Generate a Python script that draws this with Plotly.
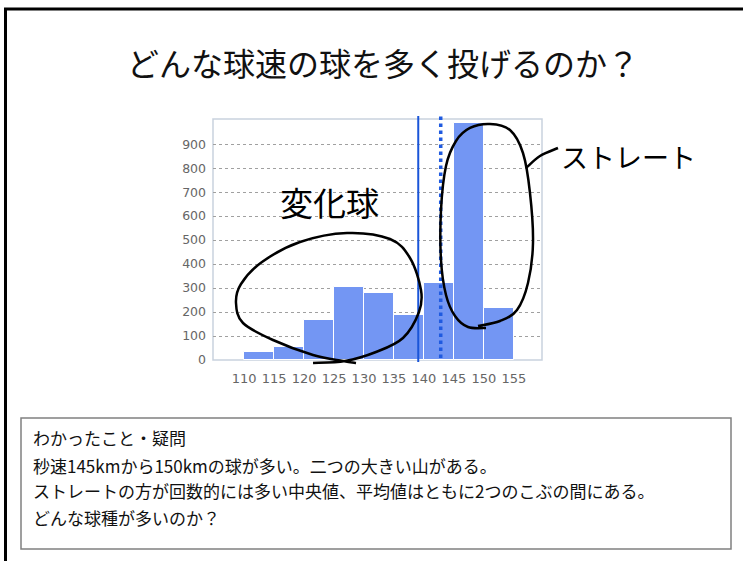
import plotly.graph_objects as go

# ---- data ----
bin_starts = [110, 115, 120, 125, 130, 135, 140, 145, 150]
bin_width = 5
counts = [34, 54, 167, 306, 280, 187, 321, 990, 215]
x_tick_vals = [110, 115, 120, 125, 130, 135, 140, 145, 150, 155]
y_tick_vals = [0, 100, 200, 300, 400, 500, 600, 700, 800, 900]
median_speed = 139.05
mean_speed = 142.8

title_text = "どんな球速の球を多く投げるのか？"
notes = [
    "わかったこと・疑問",
    "秒速145kmから150kmの球が多い。二つの大きい山がある。",
    "ストレートの方が回数的には多い中央値、平均値はともに2つのこぶの間にある。",
    "どんな球種が多いのか？",
]
label_breaking = "変化球"
label_straight = "ストレート"

# ---- layout geometry (pixels) ----
W, H = 743, 561
PL, PR, PT, PB = 213, 542, 119, 360

def px(x, y):
    return (x - PL) / (PR - PL), (PB - y) / (PB - PT)

def smooth_path(points):
    pts = [px(*p) for p in points]
    d = "M {:.4f},{:.4f}".format(*pts[0])
    n = len(pts)
    for i in range(n - 1):
        p0 = pts[i - 1] if i > 0 else pts[i]
        p1 = pts[i]
        p2 = pts[i + 1]
        p3 = pts[i + 2] if i + 2 < n else pts[i + 1]
        c1 = (p1[0] + (p2[0] - p0[0]) / 6, p1[1] + (p2[1] - p0[1]) / 6)
        c2 = (p2[0] - (p3[0] - p1[0]) / 6, p2[1] - (p3[1] - p1[1]) / 6)
        d += " C {:.4f},{:.4f} {:.4f},{:.4f} {:.4f},{:.4f}".format(*c1, *c2, *p2)
    return d

bar_x = [s + bin_width / 2 for s in bin_starts]

fig = go.Figure()
fig.add_trace(go.Bar(
    x=bar_x, y=counts, width=[bin_width] * len(counts),
    marker=dict(color="#7396f3", line=dict(color="white", width=1)),
    hoverinfo="skip",
))

shapes = []
# outer frame
shapes.append(dict(type="rect", xref="paper", yref="paper",
                   x0=px(5.5, 0)[0], x1=px(800, 0)[0], y0=px(0, 700)[1], y1=px(0, 9)[1],
                   line=dict(color="black", width=3), layer="below"))
# plot frame
shapes.append(dict(type="rect", xref="paper", yref="paper", x0=0, x1=1, y0=0, y1=1,
                   line=dict(color="#c9d2de", width=1.5), layer="below"))
# text box
shapes.append(dict(type="rect", xref="paper", yref="paper",
                   x0=px(21, 0)[0], x1=px(731, 0)[0], y0=px(0, 549)[1], y1=px(0, 418)[1],
                   line=dict(color="#808080", width=1.5)))
# median / mean lines
shapes.append(dict(type="line", xref="x", yref="paper", x0=median_speed, x1=median_speed,
                   y0=px(0, 362)[1], y1=px(0, 116)[1], line=dict(color="#1a55d8", width=2)))
shapes.append(dict(type="line", xref="x", yref="paper", x0=mean_speed, x1=mean_speed,
                   y0=px(0, 358)[1], y1=px(0, 116)[1], line=dict(color="#1f5ae0", width=3.5, dash="dot")))

pen = dict(color="black", width=2.5)
left_loop = [(313, 363), (345, 361), (376, 352), (403, 338), (419, 312), (421, 290), (410, 258),
             (390, 239), (347, 233), (300, 242), (262, 262), (241, 284), (236, 303), (243, 323),
             (273, 340), (313, 355), (343, 361), (356, 363)]
right_loop = [(478, 326), (500, 321), (517, 310), (528, 283), (533, 243), (530, 193), (523, 153),
              (510, 130), (490, 124), (470, 128), (456, 141), (446, 166), (441, 210), (441, 260),
              (446, 295), (455, 316), (468, 327), (486, 328)]
connector = [(526, 168), (540, 156), (558, 148)]
for pts in (left_loop, right_loop, connector):
    shapes.append(dict(type="path", xref="paper", yref="paper", path=smooth_path(pts),
                       line=pen))

annotations = []
tx, ty = px(383, 62)
annotations.append(dict(text=title_text, x=tx, y=ty, xref="paper", yref="paper",
                        showarrow=False, xanchor="center", yanchor="middle",
                        font=dict(family="Noto Sans CJK JP", size=32, color="#111")))
for i, (line, yy) in enumerate(zip(notes, [437, 465, 491, 517])):
    nx, ny = px(31, yy)
    annotations.append(dict(text=line, x=nx, y=ny, xref="paper", yref="paper",
                            showarrow=False, xanchor="left", yanchor="middle",
                            font=dict(family="Noto Sans CJK JP", size=17, color="#111")))
bx, by = px(329, 202)
annotations.append(dict(text=label_breaking, x=bx, y=by, xref="paper", yref="paper",
                        showarrow=False, xanchor="center", yanchor="middle",
                        font=dict(family="Noto Sans CJK JP", size=33, color="black")))
sx, sy = px(628, 156)
annotations.append(dict(text=label_straight, x=sx, y=sy, xref="paper", yref="paper",
                        showarrow=False, xanchor="center", yanchor="middle",
                        font=dict(family="Noto Sans CJK JP", size=27, color="black")))

fig.update_layout(
    width=W, height=H,
    margin=dict(l=PL, r=W - PR, t=PT, b=H - PB, pad=0),
    paper_bgcolor="white", plot_bgcolor="white",
    showlegend=False, bargap=0,
    shapes=shapes, annotations=annotations,
    xaxis=dict(range=[104.8, 159.7], tickvals=x_tick_vals, ticktext=[str(v) for v in x_tick_vals],
               showgrid=False, zeroline=False, showline=False, ticks="",
               tickfont=dict(family="DejaVu Sans", size=13, color="#666"), ticklabelstandoff=9),
    yaxis=dict(range=[0, 1005], tickvals=y_tick_vals, ticktext=[str(v) for v in y_tick_vals],
               showgrid=True, gridcolor="#a0a0a0", griddash="3px,3px", gridwidth=1,
               zeroline=False, showline=False, ticks="",
               tickfont=dict(family="DejaVu Sans", size=12.5, color="#666"), ticklabelstandoff=6),
)

fig.write_html("out.html")
